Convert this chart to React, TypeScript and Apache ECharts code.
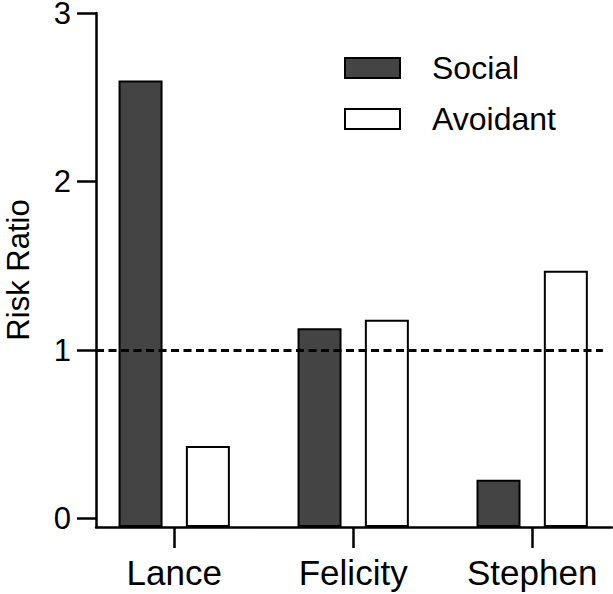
import React, { useEffect, useRef } from "react";
import * as echarts from "echarts";

const categories = ["Lance", "Felicity", "Stephen"];
const socialValues = [2.6, 1.13, 0.23];
const avoidantValues = [0.43, 1.18, 1.47];
const yTickValues = [0, 1, 2, 3];
const referenceValue = 1;

const FONT = "'Liberation Sans', Arial, Helvetica, sans-serif";

export default function App() {
  const ref = useRef<HTMLDivElement>(null);

  useEffect(() => {
    document.body.style.margin = "0";
    if (!ref.current) return;
    const chart = echarts.init(ref.current, null, { renderer: "svg" });
    const catIdx = categories.map((_, i) => i);
    const xMin = -0.437;
    const xMax = 2.446;
    const refLineEnd = 2.395;
    chart.setOption({
      animation: false,
      backgroundColor: "#ffffff",
      textStyle: { fontFamily: FONT },
      grid: {
        left: 96,
        right: 1,
        top: 13,
        bottom: 67,
        containLabel: false,
        outerBoundsMode: "none",
      },
      legend: {
        data: ["Social", "Avoidant"],
        orient: "vertical",
        left: 344,
        top: 52,
        padding: 0,
        icon: "rect",
        itemWidth: 55,
        itemHeight: 20,
        itemGap: 19,
        textStyle: {
          fontSize: 32,
          fontFamily: FONT,
          color: "#000",
          padding: [0, 0, 0, 27],
        },
      },
      xAxis: {
        type: "value",
        min: xMin,
        max: xMax,
        splitLine: { show: false },
        axisLine: { show: true, onZero: false, lineStyle: { color: "#000", width: 2.5 } },
        axisTick: {
          show: true,
          customValues: catIdx,
          length: 21,
          lineStyle: { color: "#000", width: 2.5 },
        },
        axisLabel: {
          show: true,
          customValues: catIdx,
          formatter: (v: number) => categories[Math.round(v)] ?? "",
          fontSize: 35,
          fontFamily: FONT,
          color: "#000",
          margin: 28,
        },
      },
      yAxis: {
        type: "value",
        min: -0.05,
        max: 3,
        startValue: -0.05,
        name: "Risk Ratio",
        nameLocation: "middle",
        nameGap: 65,
        nameTextStyle: { fontSize: 31, lineHeight: 26, fontFamily: FONT, color: "#000" },
        splitLine: { show: false },
        axisLine: { show: true, onZero: false, lineStyle: { color: "#000", width: 2.5 } },
        axisTick: {
          show: true,
          customValues: yTickValues,
          length: 19,
          lineStyle: { color: "#000", width: 2.5 },
        },
        axisLabel: {
          show: true,
          customValues: yTickValues,
          fontSize: 31,
          lineHeight: 24,
          fontFamily: FONT,
          color: "#000",
          margin: 25,
        },
      },
      series: [
        {
          name: "Social",
          type: "bar",
          barWidth: 44,
          barGap: "53%",
          data: socialValues.map((v, i) => [i, v]),
          itemStyle: { color: "#444444", borderColor: "#000", borderWidth: 2 },
        },
        {
          name: "Avoidant",
          type: "bar",
          barWidth: 44,
          barGap: "53%",
          data: avoidantValues.map((v, i) => [i, v]),
          itemStyle: { color: "#ffffff", borderColor: "#000", borderWidth: 2 },
        },
        {
          name: "reference",
          type: "line",
          data: [],
          silent: true,
          markLine: {
            silent: true,
            symbol: "none",
            label: { show: false },
            lineStyle: { color: "#000", width: 3, type: [8, 4.5] },
            data: [
              [
                { coord: [xMin, referenceValue] },
                { coord: [refLineEnd, referenceValue] },
              ],
            ],
          },
        },
      ],
    });
    return () => chart.dispose();
  }, []);

  return <div ref={ref} style={{ width: 613, height: 594 }} />;
}
